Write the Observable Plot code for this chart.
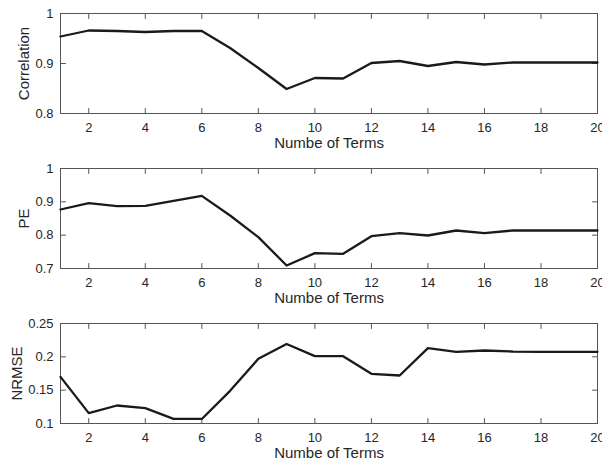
<!DOCTYPE html>
<html><head><meta charset="utf-8">
<script src="https://cdn.jsdelivr.net/npm/d3@7"></script>
<script src="https://cdn.jsdelivr.net/npm/@observablehq/plot@0.6"></script>
<style>
  html,body{margin:0;padding:0;background:#fff;}
  svg{display:block;}
</style>
</head><body><div id="chart"></div>
<script>
const terms = [1,2,3,4,5,6,7,8,9,10,11,12,13,14,15,16,17,18,19,20];
const correlation = [0.954,0.966,0.965,0.963,0.965,0.965,0.931,0.891,0.849,0.871,0.870,0.901,0.905,0.895,0.903,0.898,0.902,0.902,0.902,0.902];
const pe = [0.877,0.896,0.887,0.888,0.903,0.918,0.859,0.794,0.709,0.746,0.744,0.797,0.806,0.799,0.814,0.806,0.814,0.814,0.814,0.814];
const nrmse = [0.170,0.1155,0.127,0.123,0.107,0.1068,0.149,0.197,0.2193,0.201,0.201,0.1745,0.172,0.213,0.2075,0.2095,0.208,0.2075,0.2075,0.2075];
const xTicks = [2,4,6,8,10,12,14,16,18,20];
const corrTicks = [0.8,0.9,1];
const peTicks = [0.7,0.8,0.9,1];
const nrmseTicks = [0.1,0.15,0.2,0.25];
const xLabel = "Numbe of Terms";

const axisColor = "#555";
const textColor = "#262626";
const fmt = d => String(d);

// straight tick segment drawn from the anchor point along the vector direction
const tickShape = {draw(context, l) { context.moveTo(0, 0); context.lineTo(0, -l); }};

function inwardTicks(values, channel, frameAnchor, rotate) {
  return Plot.vector(values, {
    [channel]: d => d, frameAnchor, rotate, length: 5, anchor: "start",
    shape: tickShape, stroke: axisColor, strokeWidth: 1
  });
}

function panel(values, label, domain, yTicks, labelOffset) {
  const data = terms.map((t, i) => ({t, v: values[i]}));
  return Plot.plot({
    width: 602, height: 155,
    marginTop: 13, marginBottom: 42, marginLeft: 60, marginRight: 5,
    style: {fontFamily: "'Liberation Sans', Arial, sans-serif", fontSize: "13px", color: textColor, background: "white"},
    x: {domain: [1, 20]},
    y: {domain},
    marks: [
      Plot.axisX(xTicks, {anchor: "bottom", tickSize: 0, tickPadding: 9, label: null, fill: textColor, fontSize: 13, tickFormat: fmt}),
      Plot.axisY(yTicks, {anchor: "left", tickSize: 0, tickPadding: 7, label: null, fill: textColor, fontSize: 13, tickFormat: fmt}),
      inwardTicks(xTicks, "x", "bottom", 0),
      inwardTicks(xTicks, "x", "top", 180),
      inwardTicks(yTicks, "y", "left", 90),
      inwardTicks(yTicks, "y", "right", -90),
      Plot.frame({stroke: axisColor}),
      Plot.line(data, {x: "t", y: "v", stroke: "#1a1a1a", strokeWidth: 2.3}),
      Plot.text([label], {text: d => d, frameAnchor: "left", textAnchor: "middle", rotate: -90, dx: -labelOffset, fontSize: 15, fill: textColor}),
      Plot.text([xLabel], {text: d => d, frameAnchor: "bottom", dy: 34, fontSize: 15, fill: textColor})
    ]
  });
}

const root = document.getElementById("chart");
root.append(panel(correlation, "Correlation", [0.8, 1], corrTicks, 36));
root.append(panel(pe, "PE", [0.7, 1], peTicks, 36));
root.append(panel(nrmse, "NRMSE", [0.1, 0.25], nrmseTicks, 43));
</script>
</body></html>
